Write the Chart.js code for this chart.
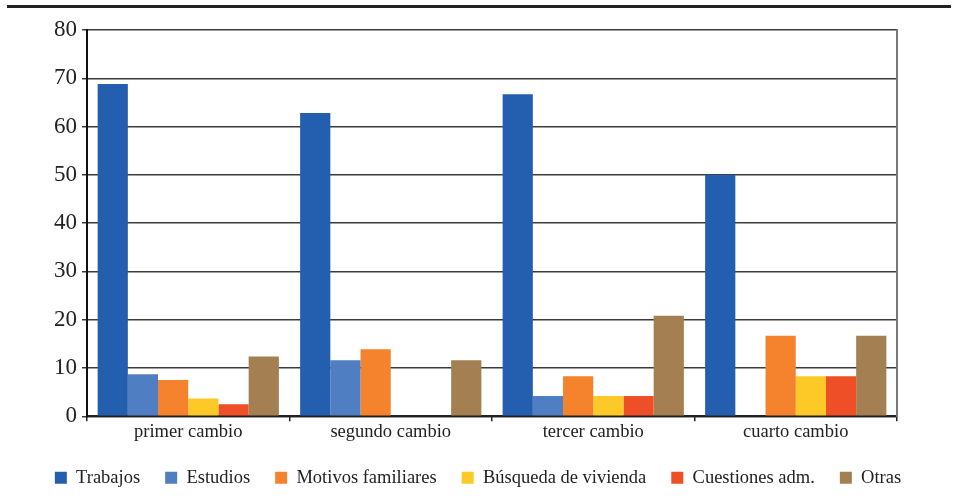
<!DOCTYPE html>
<html>
<head>
<meta charset="utf-8">
<script src="https://cdn.jsdelivr.net/npm/chart.js@4.4.1/dist/chart.umd.min.js"></script>
<style>
  html, body { margin: 0; padding: 0; background: #fff; }
  #wrap { position: relative; width: 956px; height: 496px; }
  #rule { position: absolute; left: 7px; top: 5px; width: 944px; height: 0; border-top: 3px solid #222; }
</style>
</head>
<body>
<div id="wrap">
  <div id="rule"></div>
  <canvas id="myChart" width="956" height="496"></canvas>
</div>
<script>
// data (percent)
const categories = ["primer cambio", "segundo cambio", "tercer cambio", "cuarto cambio"];
const trabajos = [68.8, 62.8, 66.7, 50.0];
const estudios = [8.7, 11.6, 4.2, 0];
const motivos = [7.5, 13.9, 8.3, 16.7];
const busqueda = [3.7, 0, 4.2, 8.3];
const cuestiones = [2.5, 0, 4.2, 8.3];
const otras = [12.4, 11.6, 20.8, 16.7];
const yTicks = [0, 10, 20, 30, 40, 50, 60, 70, 80];

const serif = "'Liberation Serif', 'DejaVu Serif', serif";

function serie(label, data, color) {
  return {
    label: label,
    data: data,
    backgroundColor: color,
    borderColor: color,
    borderWidth: 0,
    categoryPercentage: 0.895,
    barPercentage: 1.0,
  };
}

const ctx = document.getElementById("myChart");

new Chart(ctx, {
  type: "bar",
  data: {
    labels: categories,
    datasets: [
      serie("Trabajos", trabajos, "#245eae"),
      serie("Estudios", estudios, "#4f7ec2"),
      serie("Motivos familiares", motivos, "#f5822d"),
      serie("Búsqueda de vivienda", busqueda, "#fdc926"),
      serie("Cuestiones adm.", cuestiones, "#ee4f27"),
      serie("Otras", otras, "#a37f52"),
    ],
  },
  options: {
    responsive: false,
    animation: false,
    layout: { padding: { top: 30, left: 0, right: 0, bottom: -1 } },
    plugins: {
      tooltip: { enabled: false },
      legend: {
        position: "bottom",
        labels: {
          font: { family: serif, size: 18.5 },
          color: "#222",
          boxWidth: 12,
          boxHeight: 12,
          padding: 25,
        },
      },
    },
    scales: {
      x: {
        offset: true,
        grid: {
          offset: true,
          drawOnChartArea: false,
          drawTicks: true,
          tickLength: 5,
          color: "#222",
          lineWidth: 1.5,
        },
        border: { color: "#222", width: 2 },
        ticks: {
          font: { family: serif, size: 18.5 },
          color: "#222",
          padding: 0,
        },
      },
      y: {
        min: 0,
        max: 80,
        afterBuildTicks: function (axis) {
          axis.ticks = yTicks.map(function (v) { return { value: v }; });
        },
        afterFit: function (axis) {
          axis.width = 87;
        },
        grid: {
          color: "#3c3c3c",
          lineWidth: 1.5,
          tickLength: 5,
        },
        border: { color: "#111", width: 2 },
        ticks: {
          font: { family: serif, size: 23 },
          color: "#222",
          padding: 5,
        },
      },
      y2: {
        position: "right",
        min: 0,
        max: 80,
        afterFit: function (axis) {
          axis.width = 59;
        },
        grid: { drawOnChartArea: false, drawTicks: false },
        border: { color: "#777", width: 2 },
        ticks: { display: false },
      },
    },
  },
});
</script>
</body>
</html>
